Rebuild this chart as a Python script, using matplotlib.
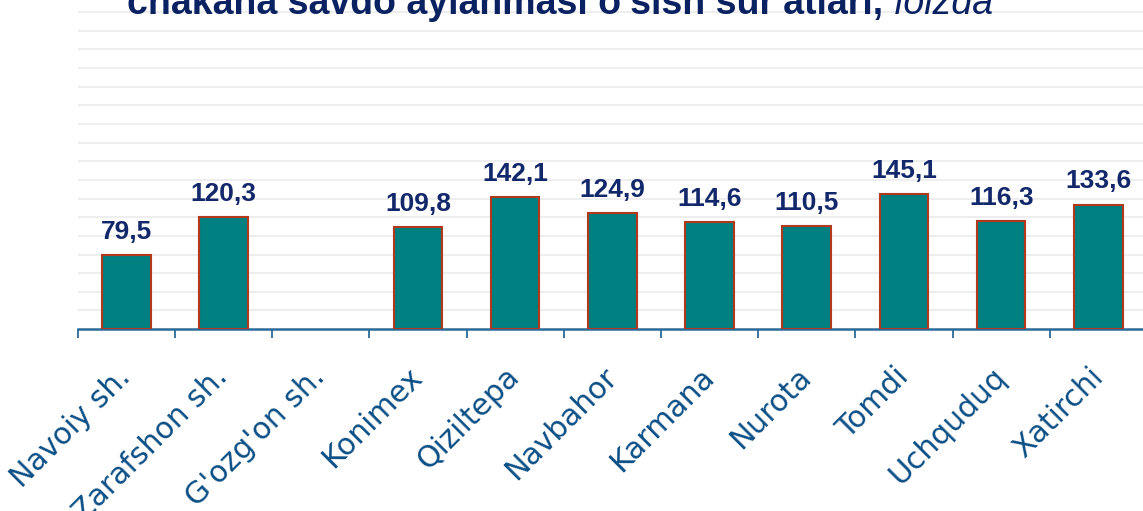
import matplotlib
matplotlib.use('Agg')
import matplotlib.pyplot as plt

# tumanlar va o'sish sur'atlari (foizda); G'ozg'on sh. uchun ma'lumot yo'q
districts = ['Navoiy sh.', 'Zarafshon sh.', "G'ozg'on sh.", 'Konimex', 'Qiziltepa',
             'Navbahor', 'Karmana', 'Nurota', 'Tomdi', 'Uchquduq', 'Xatirchi']
growth = [79.5, 120.3, None, 109.8, 142.1, 124.9, 114.6, 110.5, 145.1, 116.3, 133.6]
labels = ['79,5', '120,3', '', '109,8', '142,1', '124,9', '114,6', '110,5', '145,1', '116,3', '133,6']

bar_col = '#008080'
edge_col = '#B2391B'
axis_col = '#2B6A99'
text_col = '#0B4F86'
num_col = '#12286B'
title_col = '#0A2162'

fig = plt.figure(figsize=(11.43, 5.11), dpi=100)
ax = fig.add_axes([0.068, 0.356, 0.9355, 0.644])

xs = [i for i, v in enumerate(growth) if v is not None]
vals = [v for v in growth if v is not None]
ax.bar(xs, vals, width=0.5, color=bar_col, edgecolor=edge_col, linewidth=1.5, zorder=3)

for i, v in enumerate(growth):
    if v is None:
        continue
    ax.annotate(labels[i], (i, v), xytext=(0, 8), textcoords='offset points',
                ha='center', va='bottom', fontsize=19, fontweight='bold',
                color=num_col, family='Liberation Sans', zorder=4)

ax.set_xlim(-0.5, len(districts) - 0.5)
ax.set_ylim(0, 353)
ax.set_yticks(range(20, 341, 20))
ax.yaxis.grid(True, color='#EEEEEE', linewidth=1.5, zorder=0)
ax.tick_params(axis='y', left=False, labelleft=False)

# chegaralardagi belgilar
ax.set_xticks([i - 0.5 for i in range(len(districts) + 1)])
ax.tick_params(axis='x', direction='out', length=6.5, width=1.3, color=axis_col,
               labelbottom=False)
for s in ['top', 'right', 'left']:
    ax.spines[s].set_visible(False)
ax.spines['bottom'].set_color(axis_col)
ax.spines['bottom'].set_linewidth(1.8)

for i, name in enumerate(districts):
    ax.annotate(name, (i, 0), xytext=(0, -31), textcoords='offset points',
                xycoords=('data', 'axes fraction'),
                ha='right', va='center', rotation=45, rotation_mode='anchor',
                fontsize=21.5, color=text_col, family='DejaVu Sans')

t = fig.text(127 / 1143, 1 - 14 / 511, "chakana savdo aylanmasi o'sish sur'atlari, ",
             ha='left', va='baseline', fontsize=27, fontweight='bold',
             color=title_col, family='Liberation Sans')
fig.canvas.draw()
bb = t.get_window_extent()
fig.text(bb.x1 / fig.bbox.width, 1 - 14 / 511, 'foizda', ha='left', va='baseline',
         fontsize=27, fontstyle='italic', color=title_col, family='Liberation Sans')

fig.savefig('out.png', dpi=100)
